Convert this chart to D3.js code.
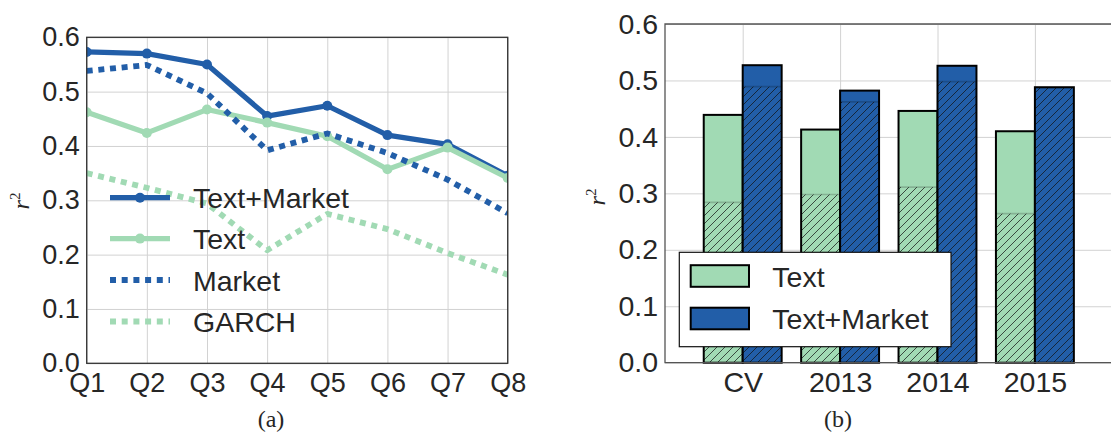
<!DOCTYPE html>
<html>
<head>
<meta charset="utf-8">
<script src="https://cdn.jsdelivr.net/npm/d3@7"></script>
<style>
  body { margin: 0; background: #fff; }
  svg { display: block; }
</style>
</head>
<body>
<svg id="fig" width="1111" height="437"></svg>
<script>
// ---- panel (a): r^2 by quarter ----
const quarters = ["Q1", "Q2", "Q3", "Q4", "Q5", "Q6", "Q7", "Q8"];
const textMarketQ = [0.573, 0.570, 0.550, 0.455, 0.474, 0.420, 0.403, 0.345];
const textQ       = [0.462, 0.424, 0.467, 0.443, 0.418, 0.357, 0.397, 0.341];
const marketQ     = [0.538, 0.549, 0.497, 0.392, 0.423, 0.387, 0.338, 0.276];
const garchQ      = [0.350, 0.323, 0.294, 0.208, 0.275, 0.247, 0.203, 0.163];
const lineNames   = ["Text+Market", "Text", "Market", "GARCH"];

// ---- panel (b): r^2 by evaluation period ----
const periods      = ["CV", "2013", "2014", "2015"];
const textBar      = [0.439, 0.413, 0.446, 0.410];
const textBase     = [0.284, 0.298, 0.311, 0.264];
const textMktBar   = [0.527, 0.482, 0.526, 0.488];
const textMktBase  = [0.489, 0.462, 0.498, 0.487];
const barNames     = ["Text", "Text+Market"];

const yTicks = [0, 0.1, 0.2, 0.3, 0.4, 0.5, 0.6];

const BLUE = "#225ea8";
const GREEN = "#a1dab4";
const INK = "#262626";
const GRID = "#d2d2d2";
const SANS = "'Liberation Sans', Arial, Helvetica, sans-serif";
const SERIF = "'Liberation Serif', 'DejaVu Serif', serif";

const svg = d3.select("#fig");
const defs = svg.append("defs");

// diagonal hatch used for the lower part of the bars
const hatch = defs.append("pattern")
  .attr("id", "hatch")
  .attr("patternUnits", "userSpaceOnUse")
  .attr("width", 8).attr("height", 8);
hatch.append("path")
  .attr("d", "M0,8 L8,0 M-2,2 L2,-2 M6,10 L10,6")
  .attr("stroke", "#111").attr("stroke-opacity", 0.8)
  .attr("stroke-width", 0.9);

function styleTicks(g, size) {
  g.select(".domain").remove();
  g.selectAll("text")
    .attr("fill", INK)
    .style("font-family", SANS)
    .style("font-size", size + "px");
}

function yLabel(x, y) {
  const t = svg.append("text")
    .attr("transform", `translate(${x},${y}) rotate(-90)`)
    .attr("text-anchor", "middle")
    .style("font-family", SERIF)
    .attr("fill", INK);
  t.append("tspan").style("font-style", "italic").style("font-size", "24px").text("r");
  t.append("tspan").attr("dy", -9).style("font-size", "15px").text("2");
}

// =============== panel (a) ===============
const A = { left: 86.7, right: 507.7, top: 37.3, bottom: 363.3 };
const xa = d3.scalePoint().domain(quarters).range([A.left, A.right]);
const ya = d3.scaleLinear().domain([0, 0.6]).range([A.bottom, A.top]);

const ga = svg.append("g");

// grid
ga.append("g")
  .attr("transform", `translate(${A.left},0)`)
  .call(d3.axisLeft(ya).tickValues(yTicks).tickSize(-(A.right - A.left)).tickFormat(""))
  .call(g => g.select(".domain").remove())
  .call(g => g.selectAll("line").attr("stroke", GRID).attr("stroke-width", 1));
ga.append("g")
  .attr("transform", `translate(0,${A.bottom})`)
  .call(d3.axisBottom(xa).tickSize(-(A.bottom - A.top)).tickFormat(""))
  .call(g => g.select(".domain").remove())
  .call(g => g.selectAll("line").attr("stroke", GRID).attr("stroke-width", 1));

// tick labels
ga.append("g")
  .attr("transform", `translate(${A.left},0)`)
  .call(d3.axisLeft(ya).tickValues(yTicks).tickFormat(d3.format(".1f")).tickSize(0).tickPadding(7))
  .call(g => styleTicks(g, 27));
ga.append("g")
  .attr("transform", `translate(0,${A.bottom})`)
  .call(d3.axisBottom(xa).tickSize(0).tickPadding(10))
  .call(g => styleTicks(g, 27));

defs.append("clipPath").attr("id", "clipA")
  .append("rect")
  .attr("x", A.left).attr("y", A.top)
  .attr("width", A.right - A.left).attr("height", A.bottom - A.top);

const seriesA = [
  { name: lineNames[0], values: textMarketQ, color: BLUE,  dash: null,    dots: true },
  { name: lineNames[1], values: textQ,       color: GREEN, dash: null,    dots: true },
  { name: lineNames[2], values: marketQ,     color: BLUE,  dash: "6,5.7", dots: false },
  { name: lineNames[3], values: garchQ,      color: GREEN, dash: "6,5.7", dots: false }
];

const line = d3.line().x((d, i) => xa(quarters[i])).y(d => ya(d));
const plotA = ga.append("g").attr("clip-path", "url(#clipA)");
seriesA.forEach(s => {
  plotA.append("path")
    .datum(s.values)
    .attr("d", line)
    .attr("fill", "none")
    .attr("stroke", s.color)
    .attr("stroke-width", s.dots ? 5.2 : 5.8)
    .attr("stroke-linejoin", "round")
    .attr("stroke-dasharray", s.dash);
  if (s.dots) {
    plotA.append("g").selectAll("circle")
      .data(s.values)
      .join("circle")
      .attr("cx", (d, i) => xa(quarters[i]))
      .attr("cy", d => ya(d))
      .attr("r", 5)
      .attr("fill", s.color);
  }
});

// frame
ga.append("rect")
  .attr("x", A.left).attr("y", A.top)
  .attr("width", A.right - A.left).attr("height", A.bottom - A.top)
  .attr("fill", "none").attr("stroke", "#333").attr("stroke-width", 1.3);

// legend (a)
const legA = ga.append("g");
const legRowsY = [197.7, 238.6, 280, 321.5];
seriesA.forEach((s, i) => {
  const y = legRowsY[i];
  legA.append("line")
    .attr("x1", 110).attr("x2", 170).attr("y1", y).attr("y2", y)
    .attr("stroke", s.color)
    .attr("stroke-width", s.dots ? 5.2 : 5.8)
    .attr("stroke-dasharray", s.dash);
  if (s.dots) {
    legA.append("circle").attr("cx", 140).attr("cy", y).attr("r", 5).attr("fill", s.color);
  }
  legA.append("text")
    .attr("x", 193).attr("y", y + 10.5)
    .attr("fill", INK)
    .style("font-family", SANS).style("font-size", "28.5px")
    .text(s.name);
});

yLabel(29, 201);

svg.append("text")
  .attr("x", 271).attr("y", 427)
  .attr("text-anchor", "middle")
  .style("font-family", SERIF).style("font-size", "24px")
  .attr("fill", INK)
  .text("(a)");

// =============== panel (b) ===============
const B = { left: 665, right: 1113, top: 24, bottom: 362.7 };
const xb = d3.scalePoint().domain(periods).range([742.7, 1034.9]);
const yb = d3.scaleLinear().domain([0, 0.6]).range([B.bottom, B.top]);
const bw = xb.step() * 0.4;

const gb = svg.append("g");

gb.append("g")
  .attr("transform", `translate(${B.left},0)`)
  .call(d3.axisLeft(yb).tickValues(yTicks).tickSize(-(B.right - B.left)).tickFormat(""))
  .call(g => g.select(".domain").remove())
  .call(g => g.selectAll("line").attr("stroke", GRID).attr("stroke-width", 1));
gb.append("g")
  .attr("transform", `translate(0,${B.bottom})`)
  .call(d3.axisBottom(xb).tickSize(-(B.bottom - B.top)).tickFormat(""))
  .call(g => g.select(".domain").remove())
  .call(g => g.selectAll("line").attr("stroke", GRID).attr("stroke-width", 1));

gb.append("g")
  .attr("transform", `translate(${B.left},0)`)
  .call(d3.axisLeft(yb).tickValues(yTicks).tickFormat(d3.format(".1f")).tickSize(0).tickPadding(7))
  .call(g => styleTicks(g, 28.5));
gb.append("g")
  .attr("transform", `translate(0,${B.bottom})`)
  .call(d3.axisBottom(xb).tickSize(0).tickPadding(9))
  .call(g => styleTicks(g, 28.5));

const groups = [
  { name: barNames[0], full: textBar,    base: textBase,    color: GREEN, off: -bw },
  { name: barNames[1], full: textMktBar, base: textMktBase, color: BLUE,  off: 0 }
];

groups.forEach(gr => {
  const bars = gb.append("g");
  periods.forEach((p, i) => {
    const x = xb(p) + gr.off;
    // whole bar
    bars.append("rect")
      .attr("x", x).attr("y", yb(gr.full[i]))
      .attr("width", bw).attr("height", yb(0) - yb(gr.full[i]))
      .attr("fill", gr.color);
    // hatched lower part
    bars.append("rect")
      .attr("x", x).attr("y", yb(gr.base[i]))
      .attr("width", bw).attr("height", yb(0) - yb(gr.base[i]))
      .attr("fill", "url(#hatch)");
    bars.append("line")
      .attr("x1", x).attr("x2", x + bw)
      .attr("y1", yb(gr.base[i])).attr("y2", yb(gr.base[i]))
      .attr("stroke", "#000").attr("stroke-opacity", 0.18).attr("stroke-width", 1.6);
    // outline
    bars.append("rect")
      .attr("x", x).attr("y", yb(gr.full[i]))
      .attr("width", bw).attr("height", yb(0) - yb(gr.full[i]))
      .attr("fill", "none").attr("stroke", "#000").attr("stroke-width", 2);
  });
});

// spines
gb.append("path")
  .attr("d", `M${B.right},${B.top} H${B.left} V${B.bottom} H${B.right}`)
  .attr("fill", "none").attr("stroke", "#555").attr("stroke-width", 1.3);

// legend (b)
const legB = gb.append("g");
legB.append("rect")
  .attr("x", 679.3).attr("y", 252.3).attr("width", 271.7).attr("height", 94.4)
  .attr("fill", "#fff").attr("stroke", "#111").attr("stroke-width", 1.2);
const legBRowsY = [276, 318.5];
groups.forEach((gr, i) => {
  const y = legBRowsY[i];
  legB.append("rect")
    .attr("x", 690.7).attr("y", y - 10.8).attr("width", 58.3).attr("height", 21.6)
    .attr("fill", gr.color).attr("stroke", "#000").attr("stroke-width", 2);
  legB.append("text")
    .attr("x", 772.3).attr("y", y + 10.5)
    .attr("fill", INK)
    .style("font-family", SANS).style("font-size", "28.5px")
    .text(gr.name);
});

yLabel(605, 197);

svg.append("text")
  .attr("x", 838).attr("y", 427)
  .attr("text-anchor", "middle")
  .style("font-family", SERIF).style("font-size", "24px")
  .attr("fill", INK)
  .text("(b)");
</script>
</body>
</html>
